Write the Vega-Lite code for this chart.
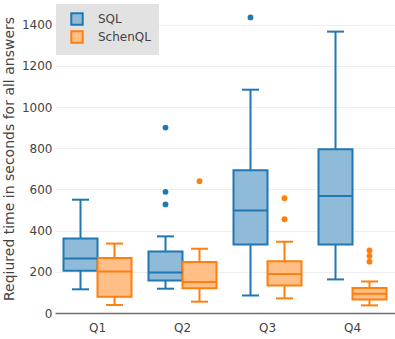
{
  "$schema": "https://vega.github.io/schema/vega-lite/v6.json",
  "autosize": "none",
  "width": 340,
  "height": 309,
  "padding": {"left": 55, "top": 4, "right": 0, "bottom": 26},
  "background": "white",
  "datasets": {
    "boxes": [
      {"q": "Q1", "g": "SQL", "lo": 115, "q1": 205, "med": 264, "q3": 362, "hi": 550},
      {"q": "Q1", "g": "SchenQL", "lo": 39, "q1": 79, "med": 202, "q3": 267, "hi": 337},
      {"q": "Q2", "g": "SQL", "lo": 118, "q1": 158, "med": 197, "q3": 299, "hi": 372},
      {"q": "Q2", "g": "SchenQL", "lo": 55, "q1": 120, "med": 150, "q3": 248, "hi": 312},
      {"q": "Q3", "g": "SQL", "lo": 85, "q1": 332, "med": 497, "q3": 693, "hi": 1084},
      {"q": "Q3", "g": "SchenQL", "lo": 71, "q1": 134, "med": 189, "q3": 251, "hi": 346},
      {"q": "Q4", "g": "SQL", "lo": 163, "q1": 332, "med": 568, "q3": 795, "hi": 1366},
      {"q": "Q4", "g": "SchenQL", "lo": 37, "q1": 65, "med": 94, "q3": 121, "hi": 153}
    ],
    "outliers": [
      {"q": "Q2", "g": "SQL", "v": 900},
      {"q": "Q2", "g": "SQL", "v": 588},
      {"q": "Q2", "g": "SQL", "v": 527},
      {"q": "Q2", "g": "SchenQL", "v": 640},
      {"q": "Q3", "g": "SQL", "v": 1435},
      {"q": "Q3", "g": "SchenQL", "v": 557},
      {"q": "Q3", "g": "SchenQL", "v": 455},
      {"q": "Q4", "g": "SchenQL", "v": 304},
      {"q": "Q4", "g": "SchenQL", "v": 277},
      {"q": "Q4", "g": "SchenQL", "v": 249}
    ]
  },
  "encoding": {
    "x": {
      "field": "q", "type": "nominal",
      "scale": {"domain": ["Q1", "Q2", "Q3", "Q4"], "paddingInner": 0, "paddingOuter": 0},
      "axis": {"title": null, "labelAngle": 0, "ticks": false, "labelPadding": 9, "domainColor": "#6e6e6e", "domainWidth": 1.5, "labelFontSize": 12, "labelColor": "#444", "grid": false}
    },
    "xOffset": {
      "field": "g", "type": "nominal",
      "scale": {"domain": ["SQL", "SchenQL"], "paddingInner": 0, "paddingOuter": 0.25}
    }
  },
  "layer": [
    {
      "data": {"name": "boxes"},
      "mark": {"type": "rule", "strokeWidth": 2},
      "encoding": {
        "y": {
          "field": "lo", "type": "quantitative",
          "scale": {"domain": [0, 1500], "nice": false, "zero": true},
          "axis": {
            "title": "Reqiured time in seconds for all answers",
            "values": [0, 200, 400, 600, 800, 1000, 1200, 1400], "format": "d",
            "domain": false, "ticks": false, "grid": true, "gridColor": "#eeeeee", "gridWidth": 1,
            "labelPadding": 3, "labelFontSize": 12, "labelColor": "#444",
            "titleFontSize": 14, "titleFontWeight": "normal", "titleColor": "#444", "titlePadding": 5
          }
        },
        "y2": {"field": "hi"},
        "stroke": {"field": "g", "type": "nominal", "scale": {"domain": ["SQL", "SchenQL"], "range": ["#1f77b4", "#ff7f0e"]}}
      }
    },
    {
      "data": {"name": "boxes"},
      "mark": {"type": "bar", "strokeWidth": 2, "opacity": 1},
      "encoding": {
        "y": {"field": "q1", "type": "quantitative"},
        "y2": {"field": "q3"},
        "fill": {
          "field": "g", "type": "nominal",
          "scale": {"domain": ["SQL", "SchenQL"], "range": ["#8fbbd9", "#ffbf86"]}
        },
        "stroke": {"field": "g", "type": "nominal"}
      }
    },
    {
      "data": {"name": "boxes"},
      "mark": {"type": "tick", "size": 34, "thickness": 2, "opacity": 1},
      "encoding": {
        "y": {"field": "med", "type": "quantitative"},
        "color": {"field": "g", "type": "nominal", "scale": {"domain": ["SchenQL", "SQL"], "range": ["#ff7f0e", "#1f77b4"]}, "legend": null}
      }
    },
    {
      "data": {"name": "boxes"},
      "mark": {"type": "tick", "size": 17, "thickness": 2, "opacity": 1},
      "encoding": {
        "y": {"field": "lo", "type": "quantitative"},
        "color": {"field": "g", "type": "nominal", "legend": null}
      }
    },
    {
      "data": {"name": "boxes"},
      "mark": {"type": "tick", "size": 17, "thickness": 2, "opacity": 1},
      "encoding": {
        "y": {"field": "hi", "type": "quantitative"},
        "color": {"field": "g", "type": "nominal", "legend": null}
      }
    },
    {
      "data": {"name": "outliers"},
      "mark": {"type": "point", "filled": true, "size": 34, "opacity": 1},
      "encoding": {
        "y": {"field": "v", "type": "quantitative"},
        "color": {"field": "g", "type": "nominal", "legend": null}
      }
    }
  ],
  "config": {
    "font": "DejaVu Sans",
    "view": {"stroke": null},
    "legend": {
      "title": null, "orient": "none", "legendX": 1, "legendY": 0,
      "fillColor": "#e2e2e2", "padding": 8, "symbolOffset": 6,
      "symbolType": "square", "symbolSize": 130, "symbolStrokeWidth": 2,
      "labelOffset": 14, "rowPadding": -2, "labelFontSize": 12, "labelColor": "#444",
      "labelFont": "DejaVu Sans"
    }
  }
}
